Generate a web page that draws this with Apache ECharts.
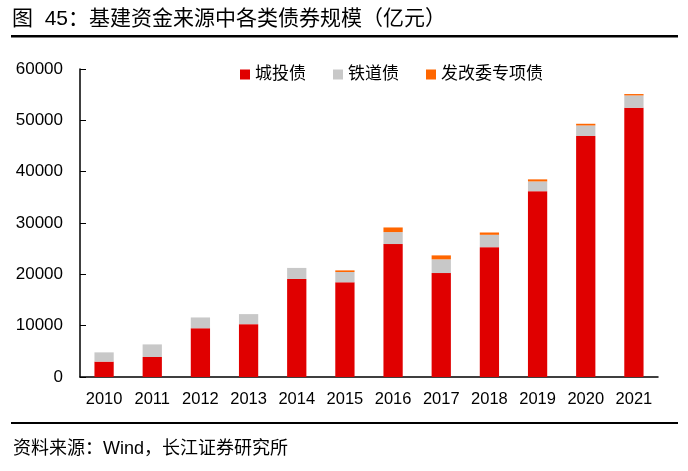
<!DOCTYPE html>
<html><head><meta charset="utf-8">
<script src="https://cdn.jsdelivr.net/npm/echarts@6/dist/echarts.min.js"></script>
<style>html,body{margin:0;padding:0;background:#fff}#c{width:688px;height:471px}</style>
</head><body><div id="c"></div>
<script>
const categories = ['2010','2011','2012','2013','2014','2015','2016','2017','2018','2019','2020','2021'];
const chengtouBond = [3000, 3900, 9500, 10300, 19100, 18450, 25900, 20250, 25300, 36200, 46950, 52450];
const railwayBond = [1800, 2450, 2100, 1950, 2150, 2000, 2330, 2670, 2400, 1900, 2050, 2400];
const ndrcBond = [0, 0, 0, 0, 0, 320, 900, 770, 450, 400, 330, 270];
const seriesNames = ['城投债', '铁道债', '发改委专项债'];
const colors = ['#E00000', '#C8C8C8', '#FF6600'];
const font = '"Liberation Sans", "Noto Sans CJK SC", sans-serif';

const chart = echarts.init(document.getElementById('c'));
const mk = (name, data, color) => ({
  name, type: 'bar', stack: 'total', data, barWidth: '40%',
  itemStyle: { color }
});
chart.setOption({
  animation: false,
  color: colors,
  textStyle: { fontFamily: font },
  grid: { left: 80, right: 30, top: 69, bottom: 94 },
  legend: {
    top: 61, left: 235, itemWidth: 10, itemHeight: 10, itemGap: 27,
    icon: 'rect',
    textStyle: { fontSize: 17, color: '#000', fontFamily: font },
    data: seriesNames
  },
  xAxis: {
    type: 'category', data: categories,
    axisLine: { lineStyle: { color: '#000', width: 1.5 } },
    axisTick: { inside: true, length: 5, lineStyle: { color: '#000' } },
    axisLabel: { color: '#000', fontSize: 16.5, margin: 14, fontFamily: font }
  },
  yAxis: {
    type: 'value', min: 0, max: 60000, interval: 10000,
    splitLine: { show: false },
    axisLine: { show: true, lineStyle: { color: '#000', width: 1.5 } },
    axisTick: { show: true, inside: true, length: 6, lineStyle: { color: '#000' } },
    axisLabel: { color: '#000', fontSize: 17, margin: 17, fontFamily: font, formatter: v => String(v) }
  },
  series: [
    mk(seriesNames[0], chengtouBond, colors[0]),
    mk(seriesNames[1], railwayBond, colors[1]),
    mk(seriesNames[2], ndrcBond, colors[2])
  ],
  graphic: [
    { type: 'text', left: 12, top: 9, style: { text: '图  45：基建资金来源中各类债券规模（亿元）', fontSize: 21, fill: '#000', fontFamily: font } },
    { type: 'rect', shape: { x: 11, y: 35, width: 667, height: 2.5 }, style: { fill: '#000' } },
    { type: 'rect', shape: { x: 11, y: 422, width: 667, height: 2 }, style: { fill: '#000' } },
    { type: 'text', left: 13, top: 440, style: { text: '资料来源：Wind，长江证券研究所', fontSize: 18, fill: '#000', fontFamily: font } }
  ]
});
</script></body></html>
